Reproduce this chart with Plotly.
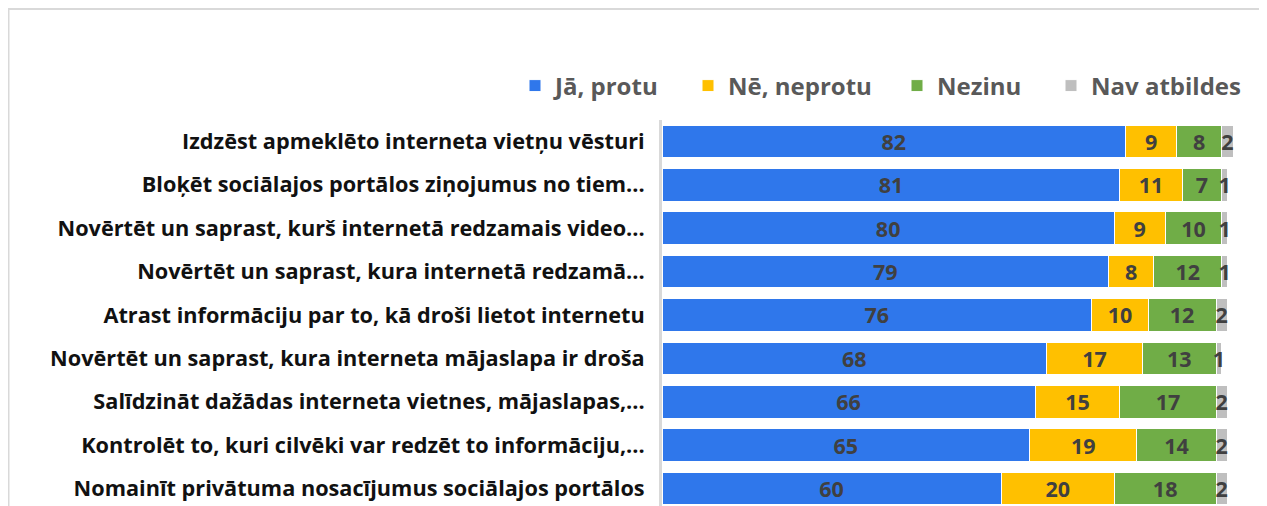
import plotly.graph_objects as go

categories = [
    "Izdzēst apmeklēto interneta vietņu vēsturi",
    "Bloķēt sociālajos portālos ziņojumus no tiem...",
    "Novērtēt un saprast, kurš internetā redzamais video...",
    "Novērtēt un saprast, kura internetā redzamā...",
    "Atrast informāciju par to, kā droši lietot internetu",
    "Novērtēt un saprast, kura interneta mājaslapa ir droša",
    "Salīdzināt dažādas interneta vietnes, mājaslapas,...",
    "Kontrolēt to, kuri cilvēki var redzēt to informāciju,...",
    "Nomainīt privātuma nosacījumus sociālajos portālos",
]
series_names = ["Jā, protu", "Nē, neprotu", "Nezinu", "Nav atbildes"]
ja = [82, 81, 80, 79, 76, 68, 66, 65, 60]
ne = [9, 11, 9, 8, 10, 17, 15, 19, 20]
nezinu = [8, 7, 10, 12, 12, 13, 17, 14, 18]
nav = [2, 1, 1, 1, 2, 1, 2, 2, 2]
colors = ["#2F77EB", "#FFC000", "#70AD47", "#BFBFBF"]

OFF = 8  # default page body margin
W, H = 1267 - OFF, 506 - OFF
L, R, T, B = 662 - OFF, 1233 - OFF, 120 - OFF, 506 - OFF
legend_text_x = [555, 728, 937, 1091]  # page px where legend texts start
legend_y = 86

pw = R - L
ph = B - T
fx = lambda px: (px - OFF - L) / pw
fy = lambda py: (B - (py - OFF)) / ph

fig = go.Figure()
legend_ids = ["legend", "legend2", "legend3", "legend4"]
for name, vals, col, lid in zip(series_names, [ja, ne, nezinu, nav], colors, legend_ids):
    fig.add_trace(go.Bar(
        y=list(range(len(categories))), x=vals, name=name, orientation="h",
        marker=dict(color=col, line=dict(color="white", width=1)),
        text=[str(v) for v in vals], textposition="inside", textangle=0,
        insidetextanchor="middle", constraintext="none", cliponaxis=False,
        textfont=dict(family="Open Sans", size=21.5, color="#404040", weight="bold"),
        hoverinfo="skip", legend=lid,
    ))

leg_common = dict(orientation="h", yanchor="middle", xanchor="left",
                  font=dict(family="Open Sans", size=24, color="#595959", weight="bold"),
                  itemwidth=30, itemclick=False, bgcolor="rgba(0,0,0,0)")
legends = {}
for lid, tx in zip(legend_ids, legend_text_x):
    legends[lid] = dict(leg_common, x=fx(tx - 40), y=fy(legend_y))

fig.update_layout(
    barmode="stack", bargap=0.249,
    width=W, height=H,
    margin=dict(l=L, r=W - R, t=T, b=H - B, autoexpand=False),
    paper_bgcolor="white", plot_bgcolor="white",
    showlegend=True,
    xaxis=dict(range=[0, 101], visible=False, fixedrange=True),
    yaxis=dict(tickmode="array", tickvals=list(range(len(categories))), ticktext=categories,
               range=[8.403, -0.491], showline=True, linecolor="#D9D9D9", linewidth=3,
               ticks="outside", ticklen=10, tickcolor="rgba(0,0,0,0)", showgrid=False,
               zeroline=False,
               tickfont=dict(family="Open Sans", size=21.7, color="#111111", weight="bold"),
               fixedrange=True),
    **legends,
)

fig.add_shape(type="line", xref="paper", yref="paper", x0=fx(7), x1=fx(1280), y0=fy(9), y1=fy(9),
              line=dict(color="#D9D9D9", width=2))
fig.add_shape(type="line", xref="paper", yref="paper", x0=fx(8.5), x1=fx(8.5), y0=fy(9), y1=fy(520),
              line=dict(color="#D9D9D9", width=2))

fig.write_html("out.html")
